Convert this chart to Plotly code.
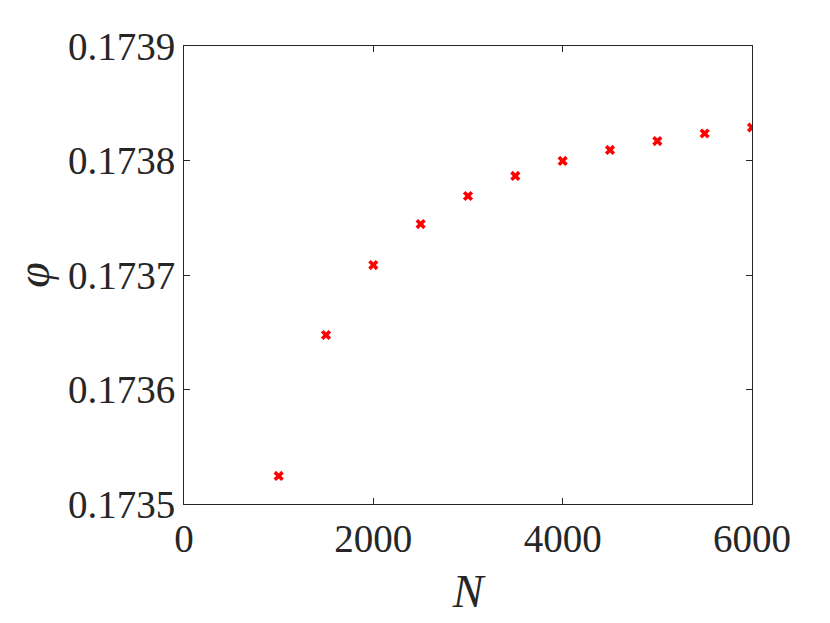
import plotly.graph_objects as go

N_values = [1000, 1500, 2000, 2500, 3000, 3500, 4000, 4500, 5000, 5500, 6000]
phi_values = [0.1735245, 0.1736476, 0.1737087, 0.1737445, 0.1737690, 0.1737865,
              0.1737996, 0.1738092, 0.1738170, 0.1738236, 0.1738288]
x_ticks = [0, 2000, 4000, 6000]
y_ticks = [0.1735, 0.1736, 0.1737, 0.1738, 0.1739]
y_ticklabels = ["0.1735", "0.1736", "0.1737", "0.1738", "0.1739"]

axis_color = "#262626"
font_family = "'Liberation Serif'"

fig = go.Figure()
fig.add_trace(go.Scatter(
    x=N_values, y=phi_values, mode="markers",
    marker=dict(symbol="x", size=9, color="#ff0000", line=dict(width=0)),
    showlegend=False,
))

common = dict(
    showline=True, linecolor=axis_color, linewidth=1, mirror="ticks",
    ticks="inside", ticklen=6, tickwidth=1, tickcolor=axis_color,
    showgrid=False, zeroline=False,
    tickfont=dict(family=font_family, size=39, color="#262626"),
)

fig.update_xaxes(range=[0, 6000], tickvals=x_ticks, ticktext=[str(v) for v in x_ticks],
                 title=dict(text="<i>N</i>", font=dict(family=font_family, size=46, color="#262626"), standoff=16),
                 **common)
fig.update_yaxes(range=[0.1735, 0.1739], tickvals=y_ticks, ticktext=y_ticklabels,
                 title=dict(text="<i>φ</i>", font=dict(family=font_family, size=46, color="#262626"), standoff=18),
                 **common)

fig.update_layout(
    width=822, height=615,
    margin=dict(l=176, r=78, t=38, b=119, autoexpand=False),
    plot_bgcolor="white", paper_bgcolor="white",
)

fig.write_html("out.html")
